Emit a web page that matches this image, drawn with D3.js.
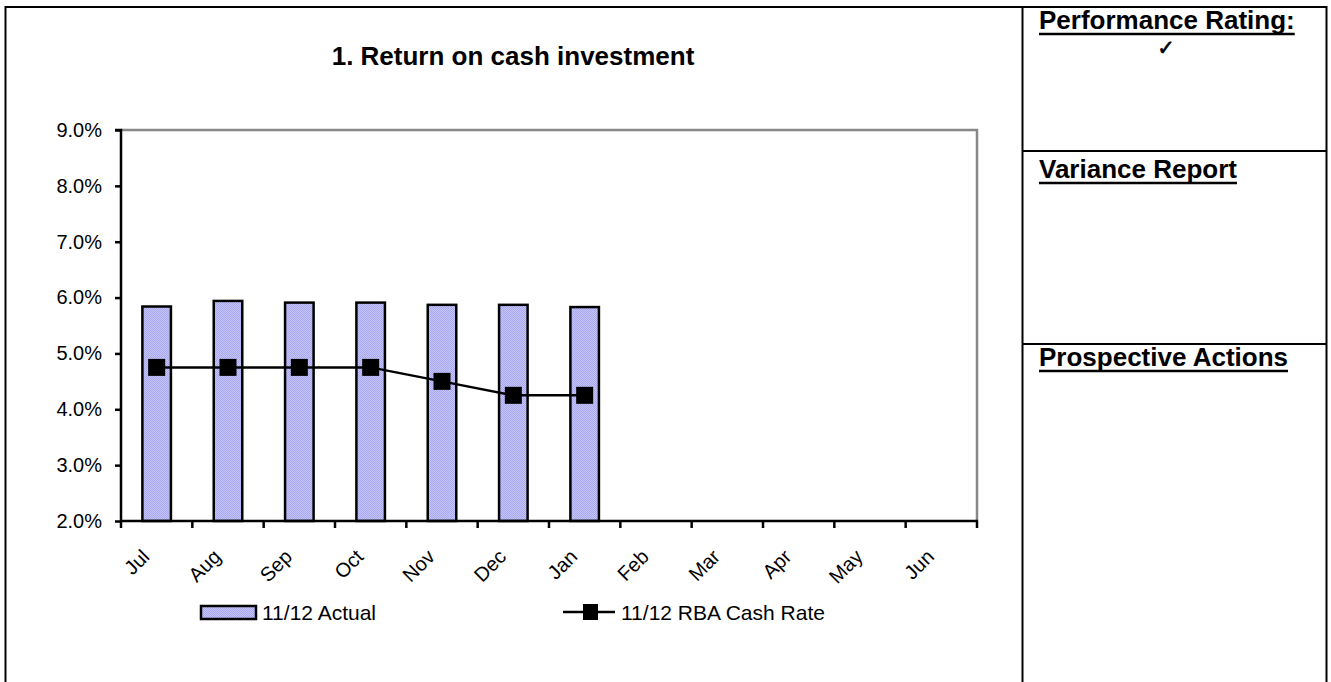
<!DOCTYPE html>
<html>
<head>
<meta charset="utf-8">
<script src="https://cdn.jsdelivr.net/npm/d3@7"></script>
<style>
  html, body { margin: 0; padding: 0; background: #fff; }
  svg { display: block; font-family: Arial, "Liberation Sans", sans-serif; }
</style>
</head>
<body>
<svg id="chart" width="1331" height="682"></svg>
<script>
// Monthly categories for the 11/12 financial year
const months = ["Jul", "Aug", "Sep", "Oct", "Nov", "Dec", "Jan", "Feb", "Mar", "Apr", "May", "Jun"];
// Actual return on cash investment (%), reported months only
const actualValues = [5.84, 5.94, 5.91, 5.91, 5.87, 5.87, 5.83];
// RBA cash rate (%)
const rbaValues = [4.75, 4.75, 4.75, 4.75, 4.50, 4.25, 4.25];
// Y axis tick values (%)
const yTicks = [2, 3, 4, 5, 6, 7, 8, 9];

const seriesNames = ["11/12 Actual", "11/12 RBA Cash Rate"];
const titleText = "1. Return on cash investment";
const panelHeadings = ["Performance Rating:", "Variance Report", "Prospective Actions"];

const svg = d3.select("#chart");

// Bar fill texture
const defs = svg.append("defs");
const pat = defs.append("pattern")
  .attr("id", "barFill").attr("patternUnits", "userSpaceOnUse")
  .attr("width", 2).attr("height", 2);
pat.append("rect").attr("width", 2).attr("height", 2).attr("fill", "#c4c4fb");
pat.append("rect").attr("width", 1).attr("height", 1).attr("fill", "#a9a9ee");
pat.append("rect").attr("x", 1).attr("y", 1).attr("width", 1).attr("height", 1).attr("fill", "#a9a9ee");

// Outer frame and side panel
svg.append("rect").attr("x", 5.5).attr("y", 7).attr("width", 1321).attr("height", 690)
  .attr("fill", "none").attr("stroke", "#000").attr("stroke-width", 2);
svg.append("line").attr("x1", 1022.5).attr("x2", 1022.5).attr("y1", 7).attr("y2", 690)
  .attr("stroke", "#000").attr("stroke-width", 2);
[151, 344].forEach(y => {
  svg.append("line").attr("x1", 1022).attr("x2", 1327).attr("y1", y).attr("y2", y)
    .attr("stroke", "#000").attr("stroke-width", 2);
});

// Side panel headings with underlines
const headingY = [29, 178, 366];
panelHeadings.forEach((t, i) => {
  const tx = svg.append("text").attr("x", 1039).attr("y", headingY[i])
    .attr("font-size", 26).attr("font-weight", "bold").attr("fill", "#000").text(t);
  const w = tx.node().getComputedTextLength();
  svg.append("line").attr("x1", 1039).attr("x2", 1039 + w)
    .attr("y1", headingY[i] + 5).attr("y2", headingY[i] + 5)
    .attr("stroke", "#000").attr("stroke-width", 2.5);
});
svg.append("text").attr("x", 1166).attr("y", 55).attr("text-anchor", "middle")
  .attr("font-size", 21).attr("font-family", "DejaVu Sans")
  .attr("fill", "#000").attr("stroke", "#000").attr("stroke-width", 0.6).text("\u2713");

// Chart title
svg.append("text").attr("x", 513).attr("y", 65).attr("text-anchor", "middle")
  .attr("font-size", 26).attr("font-weight", "bold").attr("fill", "#000").text(titleText);

// Plot area geometry
const plot = { left: 121, right: 977, top: 130, bottom: 521 };

const x = d3.scaleBand().domain(months).range([plot.left, plot.right]).paddingInner(0).paddingOuter(0);
const y = d3.scaleLinear().domain([2, 9]).range([plot.bottom, plot.top]);

// Top and right borders of plot area (grey)
svg.append("path")
  .attr("d", `M${plot.left},${plot.top}H${plot.right}V${plot.bottom}`)
  .attr("fill", "none").attr("stroke", "#888").attr("stroke-width", 2.5);

// Bars
const barW = x.bandwidth() / 2.5;
svg.append("g").selectAll("rect").data(actualValues).join("rect")
  .attr("x", (d, i) => x(months[i]) + (x.bandwidth() - barW) / 2)
  .attr("y", d => y(d))
  .attr("width", barW)
  .attr("height", d => y(2) - y(d))
  .attr("fill", "url(#barFill)")
  .attr("stroke", "#000").attr("stroke-width", 2.5);

// Y axis
const yAxis = svg.append("g").attr("transform", `translate(${plot.left},0)`)
  .call(d3.axisLeft(y).tickValues(yTicks).tickFormat(d => d.toFixed(1) + "%").tickSize(6).tickPadding(13));
yAxis.select(".domain").attr("stroke", "#000").attr("stroke-width", 2.5)
  .attr("d", `M-6,${plot.top}H0V${plot.bottom}`);
yAxis.selectAll(".tick line").attr("stroke", "#000").attr("stroke-width", 2.5);
yAxis.selectAll(".tick text").attr("font-size", 20).attr("fill", "#000")
  .attr("font-family", "Arial, 'Liberation Sans', sans-serif");

// X axis: ticks on category boundaries
const xAxisG = svg.append("g").attr("transform", `translate(0,${plot.bottom})`);
const boundaries = d3.range(months.length + 1).map(i => plot.left + i * x.bandwidth());
xAxisG.append("line").attr("x1", plot.left - 1).attr("x2", plot.right + 1)
  .attr("stroke", "#000").attr("stroke-width", 2.5);
xAxisG.selectAll("line.tk").data(boundaries).join("line").attr("class", "tk")
  .attr("x1", d => d).attr("x2", d => d).attr("y1", 0).attr("y2", 7)
  .attr("stroke", "#000").attr("stroke-width", 2.5);
xAxisG.selectAll("text").data(months).join("text")
  .attr("transform", d => `translate(${x(d) + x.bandwidth() / 2 - 6},${37}) rotate(-45)`)
  .attr("text-anchor", "end")
  .attr("font-size", 20).attr("fill", "#000").text(d => d);

// RBA cash rate line with square markers
const cx = i => x(months[i]) + x.bandwidth() / 2;
svg.append("path").datum(rbaValues)
  .attr("d", d3.line().x((d, i) => cx(i)).y(d => y(d)))
  .attr("fill", "none").attr("stroke", "#000").attr("stroke-width", 2.5);
const mk = 17;
svg.append("g").selectAll("rect").data(rbaValues).join("rect")
  .attr("x", (d, i) => cx(i) - mk / 2).attr("y", d => y(d) - mk / 2)
  .attr("width", mk).attr("height", mk).attr("fill", "#000");

// Legend
const lg = svg.append("g");
lg.append("rect").attr("x", 201).attr("y", 606).attr("width", 55).attr("height", 13)
  .attr("fill", "url(#barFill)").attr("stroke", "#000").attr("stroke-width", 2.5);
lg.append("text").attr("x", 262).attr("y", 620).attr("font-size", 21).attr("fill", "#000").text(seriesNames[0]);
lg.append("line").attr("x1", 563).attr("x2", 615).attr("y1", 612).attr("y2", 612)
  .attr("stroke", "#000").attr("stroke-width", 2.5);
lg.append("rect").attr("x", 583).attr("y", 604).attr("width", 15).attr("height", 16).attr("fill", "#000");
lg.append("text").attr("x", 621).attr("y", 620).attr("font-size", 21).attr("fill", "#000").text(seriesNames[1]);
</script>
</body>
</html>
